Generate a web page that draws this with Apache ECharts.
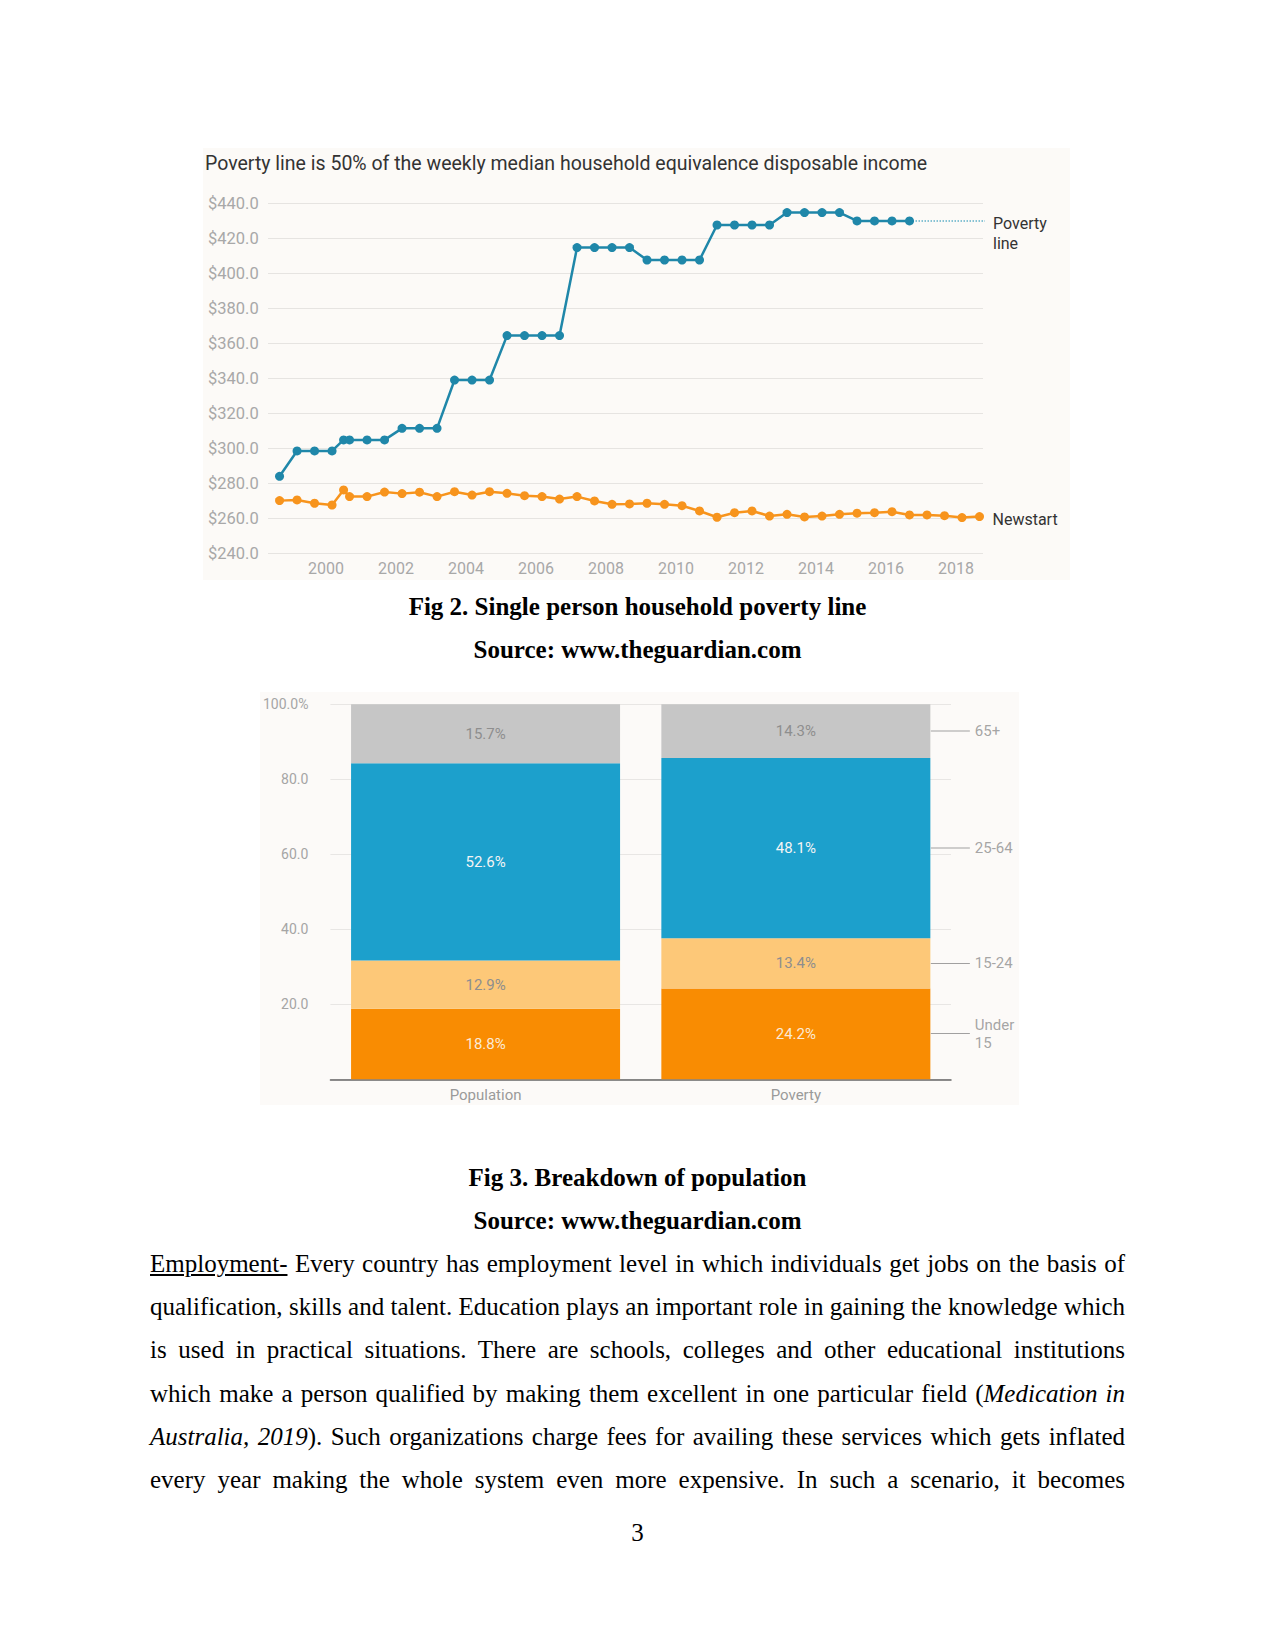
<!DOCTYPE html>
<html>
<head>
<meta charset="utf-8">
<script src="https://cdn.jsdelivr.net/npm/echarts@6/dist/echarts.min.js"></script>
<style>
  html, body { margin: 0; padding: 0; background: #ffffff; }
  #page { position: relative; width: 1275px; height: 1651px; background: #fff; overflow: hidden; }
  #chart1 { position: absolute; left: 203px; top: 148px; width: 867px; height: 432px; }
  #chart2 { position: absolute; left: 260px; top: 692px; width: 759px; height: 413px; }
  .cap { position: absolute; left: 0; width: 1275px; text-align: center; font-family: "Liberation Serif", "Times New Roman", serif; font-weight: bold; font-size: 25px; line-height: 43.2px; color: #000; }
  .para { position: absolute; left: 150px; width: 975px; font-family: "Liberation Serif", "Times New Roman", serif; font-size: 25px; line-height: 43.2px; color: #000; }
  .para div { text-align: justify; text-align-last: justify; white-space: nowrap; height: 43.2px; }
  .pnum { position: absolute; left: 0; width: 1275px; text-align: center; font-family: "Liberation Serif", "Times New Roman", serif; font-size: 25px; line-height: 43.2px; }
</style>
</head>
<body>
<div id="page">
  <div id="chart1"></div>
  <div class="cap" style="top:585px;">Fig 2. Single person household poverty line</div>
  <div class="cap" style="top:628px;">Source: www.theguardian.com</div>
  <div id="chart2"></div>
  <div class="cap" style="top:1156px;">Fig 3. Breakdown of population</div>
  <div class="cap" style="top:1199px;">Source: www.theguardian.com</div>
  <div class="para" style="top:1242px;">
    <div><u>Employment-</u> Every country has employment level in which individuals get jobs on the basis of</div>
    <div>qualification, skills and talent. Education plays an important role in gaining the knowledge which</div>
    <div>is used in practical situations. There are schools, colleges and other educational institutions</div>
    <div>which make a person qualified by making them excellent in one particular field (<i>Medication in</i></div>
    <div><i>Australia, 2019</i>). Such organizations charge fees for availing these services which gets inflated</div>
    <div>every year making the whole system even more expensive. In such a scenario, it becomes</div>
  </div>
  <div class="pnum" style="top:1511px;">3</div>
</div>
<script>
// ---------- Chart 1 data ----------
const chart1Title = 'Poverty line is 50% of the weekly median household equivalence disposable income';
const dates = [1998.67, 1999.17, 1999.67, 2000.17, 2000.5, 2000.67, 2001.17, 2001.67, 2002.17, 2002.67,
  2003.17, 2003.67, 2004.17, 2004.67, 2005.17, 2005.67, 2006.17, 2006.67, 2007.17, 2007.67,
  2008.17, 2008.67, 2009.17, 2009.67, 2010.17, 2010.67, 2011.17, 2011.67, 2012.17, 2012.67,
  2013.17, 2013.67, 2014.17, 2014.67, 2015.17, 2015.67, 2016.17, 2016.67, 2017.17, 2017.67,
  2018.17, 2018.67];
const povertyLine = [284, 298.5, 298.5, 298.5, 304.8, 304.8, 304.8, 304.8, 311.4, 311.4,
  311.4, 339, 339, 339, 364.4, 364.4, 364.4, 364.4, 414.7, 414.7,
  414.7, 414.7, 407.6, 407.6, 407.6, 407.6, 427.6, 427.6, 427.6, 427.6,
  434.7, 434.7, 434.7, 434.7, 429.9, 429.9, 429.9, 429.9];
const newstart = [270.1, 270.5, 268.6, 267.6, 276.2, 272.4, 272.4, 275.0, 274.1, 274.9,
  272.4, 275.2, 273.3, 275.2, 274.3, 272.9, 272.4, 271.0, 272.4, 269.9,
  268.0, 268.2, 268.6, 268.0, 267.2, 264.2, 260.6, 263.2, 264.2, 261.3,
  262.3, 260.8, 261.3, 262.3, 262.9, 263.2, 263.8, 261.9, 261.9, 261.5,
  260.4, 261.0];
const yearTicks = [2000, 2002, 2004, 2006, 2008, 2010, 2012, 2014, 2016, 2018];
const povertyExtendTo = 2018.87;

// ---------- Chart 2 data ----------
const categories = ['Population', 'Poverty'];
const ageGroups = ['Under 15', '15-24', '25-64', '65+'];
const ageLabels = ['Under\n15', '15-24', '25-64', '65+'];
const populationShare = [18.8, 12.9, 52.6, 15.7];
const povertyShare = [24.2, 13.4, 48.1, 14.3];

const FONT = 'Roboto';
const c1 = echarts.init(document.getElementById('chart1'), null, { renderer: 'svg' });
const povPts = povertyLine.map((v, i) => [dates[i], v]);
const newPts = newstart.map((v, i) => [dates[i], v]);
const lastPov = povPts[povPts.length - 1];
c1.setOption({
  animation: false,
  backgroundColor: '#fcfaf7',
  textStyle: { fontFamily: FONT },
  title: { text: chart1Title, left: 2, top: 5, padding: 0,
    textStyle: { fontFamily: FONT, fontSize: 19.5, fontWeight: 'normal', color: '#333' } },
  grid: { left: 65, right: 87, top: 55.3, bottom: 26.7 },
  xAxis: { type: 'value', min: 1998.34, max: 2018.77,
    splitLine: { show: false }, axisLine: { show: false }, axisTick: { show: false },
    axisLabel: { customValues: yearTicks, formatter: v => String(Math.round(v)), color: '#a8a8a8', fontSize: 16, margin: 7, fontFamily: FONT } },
  yAxis: { type: 'value', min: 240, max: 440, interval: 20,
    axisLine: { show: false }, axisTick: { show: false },
    splitLine: { lineStyle: { color: '#e6e4e1', width: 1 } },
    axisLabel: { formatter: v => '$' + v.toFixed(1), align: 'left', margin: 60, color: '#a8a8a8', fontSize: 16.5, fontFamily: FONT } },
  series: [
    { name: 'Poverty line', type: 'line', data: povPts, symbol: 'circle', symbolSize: 9,
      itemStyle: { color: '#1f87a9' }, lineStyle: { color: '#1f87a9', width: 2.5 } },
    { name: 'Poverty line ext', type: 'line', data: [lastPov, [povertyExtendTo, lastPov[1]]], symbol: 'none', clip: false,
      lineStyle: { color: '#5fb0c8', width: 1.5, type: 'dotted' }, z: 1,
      endLabel: { show: true, formatter: 'Poverty\nline', color: '#333', fontSize: 16, lineHeight: 20, distance: 8, offset: [0, 13], fontFamily: FONT } },
    { name: 'Newstart', type: 'line', data: newPts, symbol: 'circle', symbolSize: 9,
      itemStyle: { color: '#f7941d' }, lineStyle: { color: '#f7941d', width: 2.5 },
      endLabel: { show: true, formatter: 'Newstart', color: '#333', fontSize: 16, distance: 13, offset: [0, 3], fontFamily: FONT } }
  ]
});

// ---------- Chart 2 ----------
const c2 = echarts.init(document.getElementById('chart2'), null, { renderer: 'svg' });
const barColors = ['#f98c02', '#fdc878', '#1ca0cc', '#c6c6c6'];
const insideLabelColors = ['#fbead6', '#8e8e8e', '#f4f4f4', '#8e8e8e'];
let cum = 0;
const midPoints = povertyShare.map(v => { const m = cum + v / 2; cum += v; return ['Poverty', m]; });
const barSeries = ageGroups.map((g, i) => ({
  name: g, type: 'bar', stack: 'total', barWidth: 269,
  data: [populationShare[i], povertyShare[i]],
  itemStyle: { color: barColors[i] },
  label: { show: true, position: 'inside', formatter: p => p.value.toFixed(1) + '%', color: insideLabelColors[i], fontSize: 15, fontFamily: FONT }
}));
c2.setOption({
  animation: false,
  backgroundColor: '#fcfaf8',
  textStyle: { fontFamily: FONT },
  grid: { left: 70, right: 68, top: 12.3, bottom: 25.7 },
  xAxis: { type: 'category', data: categories,
    axisLine: { lineStyle: { color: '#666', width: 1.5 } }, axisTick: { show: false },
    axisLabel: { color: '#9a9a9a', fontSize: 15, margin: 8, fontFamily: FONT } },
  yAxis: { type: 'value', min: 0, max: 100, interval: 20,
    axisLine: { show: false }, axisTick: { show: false },
    splitLine: { lineStyle: { color: '#e8e6e4' } },
    axisLabel: { formatter: v => v === 0 ? '' : (v === 100 ? '100.0%' : v.toFixed(1)), color: '#a5a5a5', fontSize: 14, margin: 22, fontFamily: FONT } },
  series: barSeries.concat([{
    name: 'age labels', type: 'scatter', data: midPoints, symbolSize: 2,
    itemStyle: { color: 'rgba(0,0,0,0)' }, z: 5, silent: true,
    labelLayout: { hideOverlap: false },
    label: { show: true, position: 'right', distance: 134,
      formatter: p => {
        const lab = ageLabels[p.dataIndex];
        const parts = lab.split('\n');
        if (parts.length > 1) return '{lb|}{t|' + parts[0] + '}\n{s|}{t|' + parts[1] + '}';
        return '{l|}{t|' + lab + '}';
      },
      rich: {
        l: { width: 39, height: 1, backgroundColor: '#8a8a8a', verticalAlign: 'middle', lineHeight: 18 },
        lb: { width: 39, height: 1, backgroundColor: '#8a8a8a', verticalAlign: 'bottom', lineHeight: 18 },
        s: { width: 39, height: 1, lineHeight: 18 },
        t: { color: '#8e8e8e', fontSize: 15, lineHeight: 18, padding: [0, 0, 0, 5], fontFamily: FONT }
      } }
  }])
});
</script>
</body>
</html>
